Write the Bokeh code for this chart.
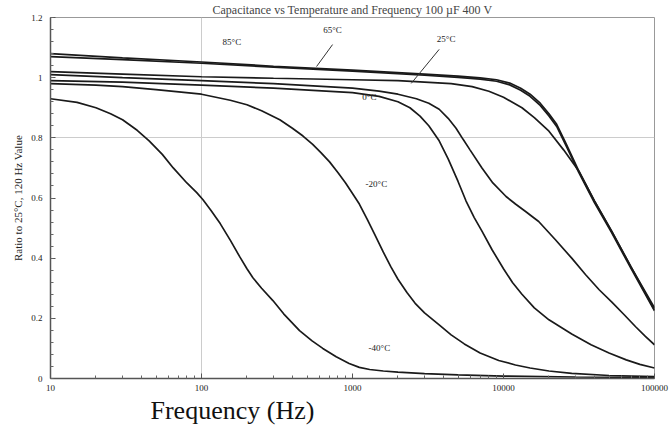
from bokeh.plotting import figure
from bokeh.models import FixedTicker, Range1d, PrintfTickFormatter, Title
from bokeh.core.properties import value
from bokeh.embed import file_html
from bokeh.resources import INLINE

TITLE = "Capacitance vs Temperature and Frequency 100 \u00b5F 400 V"
X_LABEL = "Frequency (Hz)"
Y_LABEL = "Ratio to 25\u00b0C, 120 Hz Value"

x_ticks = [10, 100, 1000, 10000, 100000]
x_tick_labels = ["10", "100", "1000", "10000", "100000"]
y_ticks = [0, 0.2, 0.4, 0.6, 0.8, 1, 1.2]
y_tick_labels = ["0", "0.2", "0.4", "0.6", "0.8", "1", "1.2"]

# curves: frequency (Hz) and ratio
freq_85 = [10, 30, 100, 300, 1000, 3000, 5000, 7000, 9000, 11000, 13000, 15000, 17500, 20000, 22500, 26000, 31500, 40000, 52000, 70000, 100000]
ratio_85 = [1.08, 1.066, 1.052, 1.038, 1.025, 1.012, 1.005, 0.999, 0.993, 0.982, 0.965, 0.945, 0.915, 0.88, 0.845, 0.78, 0.69, 0.59, 0.49, 0.37, 0.235]

freq_65 = [10, 30, 100, 300, 1000, 3000, 5000, 7000, 9000, 11000, 13000, 15000, 17500, 20000, 22500, 26000, 31500, 40000, 52000, 70000, 100000]
ratio_65 = [1.07, 1.06, 1.048, 1.035, 1.022, 1.008, 1.001, 0.995, 0.988, 0.976, 0.958, 0.938, 0.908, 0.873, 0.838, 0.773, 0.685, 0.585, 0.485, 0.365, 0.225]

freq_25 = [10, 30, 100, 300, 1000, 2000, 3000, 4500, 6200, 8000, 10000, 13250, 16000, 20000, 25000, 31500, 40000, 52000, 70000, 100000]
ratio_25 = [1.02, 1.012, 1.003, 0.998, 0.993, 0.99, 0.985, 0.98, 0.97, 0.955, 0.935, 0.9, 0.867, 0.822, 0.76, 0.69, 0.59, 0.49, 0.37, 0.228]

freq_10 = [10, 30, 100, 300, 1000, 1500, 2000, 2650, 3200, 3750, 4300, 4850, 5400, 6000, 7200, 8500, 10400, 12000, 14000, 17100, 22000, 28300, 35000, 43000, 52000, 63000, 75000, 87000, 100000]
ratio_10 = [1.01, 1.0, 0.99, 0.98, 0.965, 0.955, 0.945, 0.93, 0.915, 0.895, 0.865, 0.832, 0.795, 0.76, 0.70, 0.65, 0.605, 0.58, 0.555, 0.522, 0.462, 0.40, 0.345, 0.295, 0.255, 0.212, 0.172, 0.14, 0.112]

freq_0 = [10, 30, 100, 300, 1000, 1500, 2000, 2400, 2800, 3200, 3750, 4300, 5000, 5650, 6400, 7200, 8400, 10000, 11500, 13250, 16000, 20000, 28300, 38000, 50000, 65000, 80000, 100000]
ratio_0 = [0.99, 0.985, 0.975, 0.965, 0.95, 0.938, 0.92, 0.9, 0.872, 0.84, 0.79, 0.73, 0.655, 0.59, 0.535, 0.49, 0.428, 0.365, 0.318, 0.28, 0.235, 0.195, 0.148, 0.112, 0.085, 0.062, 0.047, 0.035]

freq_m20 = [10, 20, 30, 50, 100, 155, 200, 250, 330, 400, 470, 545, 620, 705, 800, 900, 1000, 1110, 1250, 1400, 1600, 1800, 2000, 2300, 2600, 3000, 3750, 4500, 5500, 7000, 9300, 12000, 15000, 20000, 28300, 50000, 100000]
ratio_m20 = [0.98, 0.975, 0.97, 0.96, 0.945, 0.925, 0.91, 0.89, 0.86, 0.832, 0.806, 0.778, 0.75, 0.72, 0.685, 0.65, 0.615, 0.58, 0.53, 0.48, 0.42, 0.37, 0.33, 0.285, 0.25, 0.218, 0.178, 0.145, 0.115, 0.085, 0.06, 0.045, 0.035, 0.025, 0.017, 0.01, 0.006]

freq_m40 = [10, 15, 20, 25, 30, 37.5, 45, 55, 65, 80, 93, 102, 115, 133, 155, 179, 200, 219, 250, 297, 350, 446, 540, 636, 780, 950, 1110, 1300, 1600, 2000, 3000, 5000, 10000, 30000, 100000]
ratio_m40 = [0.93, 0.918, 0.9, 0.88, 0.86, 0.825, 0.79, 0.745, 0.70, 0.65, 0.618, 0.595, 0.56, 0.515, 0.46, 0.405, 0.365, 0.335, 0.3, 0.259, 0.215, 0.159, 0.125, 0.1, 0.072, 0.05, 0.037, 0.03, 0.025, 0.021, 0.016, 0.012, 0.008, 0.005, 0.004]

curves = [
    (freq_85, ratio_85), (freq_65, ratio_65), (freq_25, ratio_25), (freq_10, ratio_10),
    (freq_0, ratio_0), (freq_m20, ratio_m20), (freq_m40, ratio_m40),
]

temp_labels = ["85\u00b0C", "65\u00b0C", "25\u00b0C", "0\u00b0C", "-20\u00b0C", "-40\u00b0C"]
temp_label_x = [159, 738, 4170, 1294, 1439, 1507]
temp_label_y = [1.12, 1.16, 1.127, 0.935, 0.646, 0.103]

leader_x0 = [738, 3750]
leader_y0 = [1.11, 1.094]
leader_x1 = [578, 2450]
leader_y1 = [1.037, 0.981]

SERIF = "Liberation Serif"

p = figure(width=672, height=428, x_axis_type="log",
           x_range=Range1d(10, 100000), y_range=Range1d(0, 1.2),
           output_backend="svg", toolbar_location=None,
           min_border_left=50, min_border_right=18, min_border_top=16, min_border_bottom=50)

p.title.text = TITLE
p.title.text_font = SERIF
p.title.text_font_size = "12px"
p.title.text_font_style = "normal"
p.title.text_color = "#444444"
p.title.align = "center"
p.title.offset = -9
p.title.standoff = 1

p.add_layout(Title(text=X_LABEL, align="left", offset=100, text_font=SERIF,
                   text_font_size="26px", text_font_style="normal", text_color="#111111",
                   standoff=0), "below")
p.add_layout(Title(text=Y_LABEL, align="center", offset=17, text_font=SERIF,
                   text_font_size="11px", text_font_style="normal", text_color="#222222",
                   standoff=9), "left")

p.background_fill_color = "white"
p.border_fill_color = "white"
p.outline_line_color = "#999999"
p.outline_line_width = 1

p.xgrid.ticker = FixedTicker(ticks=[100])
p.ygrid.ticker = FixedTicker(ticks=[0.8])
p.xgrid.grid_line_color = "#cccccc"
p.ygrid.grid_line_color = "#cccccc"

x_minor = [m * 10 ** e for e in range(1, 5) for m in range(2, 10)]
p.xaxis.ticker = FixedTicker(ticks=x_ticks, minor_ticks=x_minor)
p.xaxis.formatter = PrintfTickFormatter(format="%d")
p.xaxis.major_label_overrides = dict(zip(x_ticks, x_tick_labels))
p.yaxis.ticker = FixedTicker(ticks=y_ticks, minor_ticks=[i * 0.04 for i in range(31)])
p.yaxis.major_label_overrides = dict(zip(y_ticks, y_tick_labels))

for ax in (p.xaxis, p.yaxis):
    ax.axis_line_color = "#555555"
    ax.axis_line_width = 1.5
    ax.major_tick_in = 5
    ax.major_tick_out = 0
    ax.minor_tick_in = 3
    ax.minor_tick_out = 0
    ax.major_tick_line_color = "#555555"
    ax.minor_tick_line_color = "#666666"
    ax.major_label_text_font = SERIF
    ax.major_label_text_font_size = "9px"
    ax.major_label_text_color = "#222222"
p.xaxis.major_label_standoff = 6
p.yaxis.major_label_standoff = 8

for fx, fy in curves:
    p.line(fx, fy, line_color="#1a1a1a", line_width=1.7)

p.segment(x0=leader_x0, y0=leader_y0, x1=leader_x1, y1=leader_y1,
          line_color="#333333", line_width=1)

p.text(x=temp_label_x, y=temp_label_y, text=temp_labels,
       text_font=value(SERIF), text_font_size="9px", text_color="#222222",
       text_align="center", text_baseline="middle")

open("out.html", "w").write(file_html(p, INLINE))
